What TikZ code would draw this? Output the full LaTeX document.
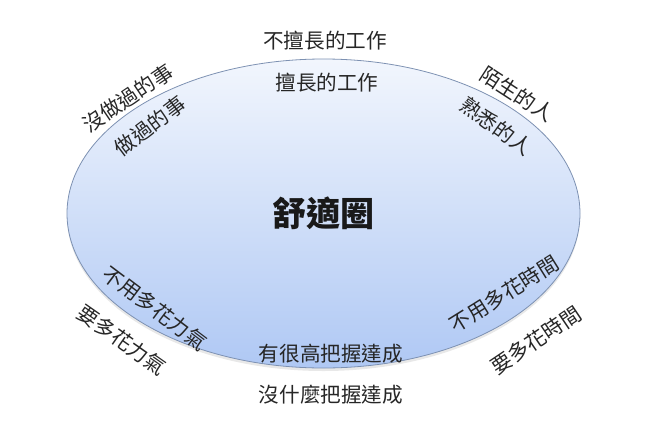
\documentclass[tikz,border=0pt]{standalone}
\usepackage{fontspec}
\newfontfamily\cjk{Noto Sans CJK TC}
\usepackage{tikz}
\usetikzlibrary{shapes.geometric,shadows}
\definecolor{ringtop}{HTML}{F2F6FD}
\definecolor{ringbot}{HTML}{AFC8F4}
\definecolor{ringline}{HTML}{7D91B2}

\begin{document}
\begin{tikzpicture}[x=1pt,y=-1pt,ring/.style={ellipse,draw=ringline,line width=0.8pt,top color=ringtop,bottom color=ringbot,minimum width=513pt,minimum height=309pt,inner sep=0pt,drop shadow={opacity=0.18,shadow xshift=0pt,shadow yshift=-3pt}},lbl/.style={font=\cjk\fontsize{20.6}{21}\selectfont,text=black!85,inner sep=0pt}]
\useasboundingbox (0,0) rectangle (660,423);
\node[ring] (zone) at (323.5,213.5) {};
\node[font=\cjk\bfseries\fontsize{34}{34}\selectfont,text=black!90,inner sep=0pt] (core) at (zone.center) {舒適圈};
\foreach \x/\y/\a/\1 [count=\i] in %
{325/41/0/不擅長的工作,327/83/0/擅長的工作,
 128/98/34/沒做過的事,150/126/37/做過的事,
 517/94/-33/陌生的人,496/126/-36/熟悉的人,
 155/308/-37/不用多花力氣,122/340/-35/要多花力氣,
 331/354/0/有很高把握達成,331/395/0/沒什麼把握達成,
 504/294/32/不用多花時間,536/340/34/要多花時間} {
   \node[lbl,rotate=\a] (t\i) at (\x,\y) {\1};
}
\end{tikzpicture}
\end{document}
